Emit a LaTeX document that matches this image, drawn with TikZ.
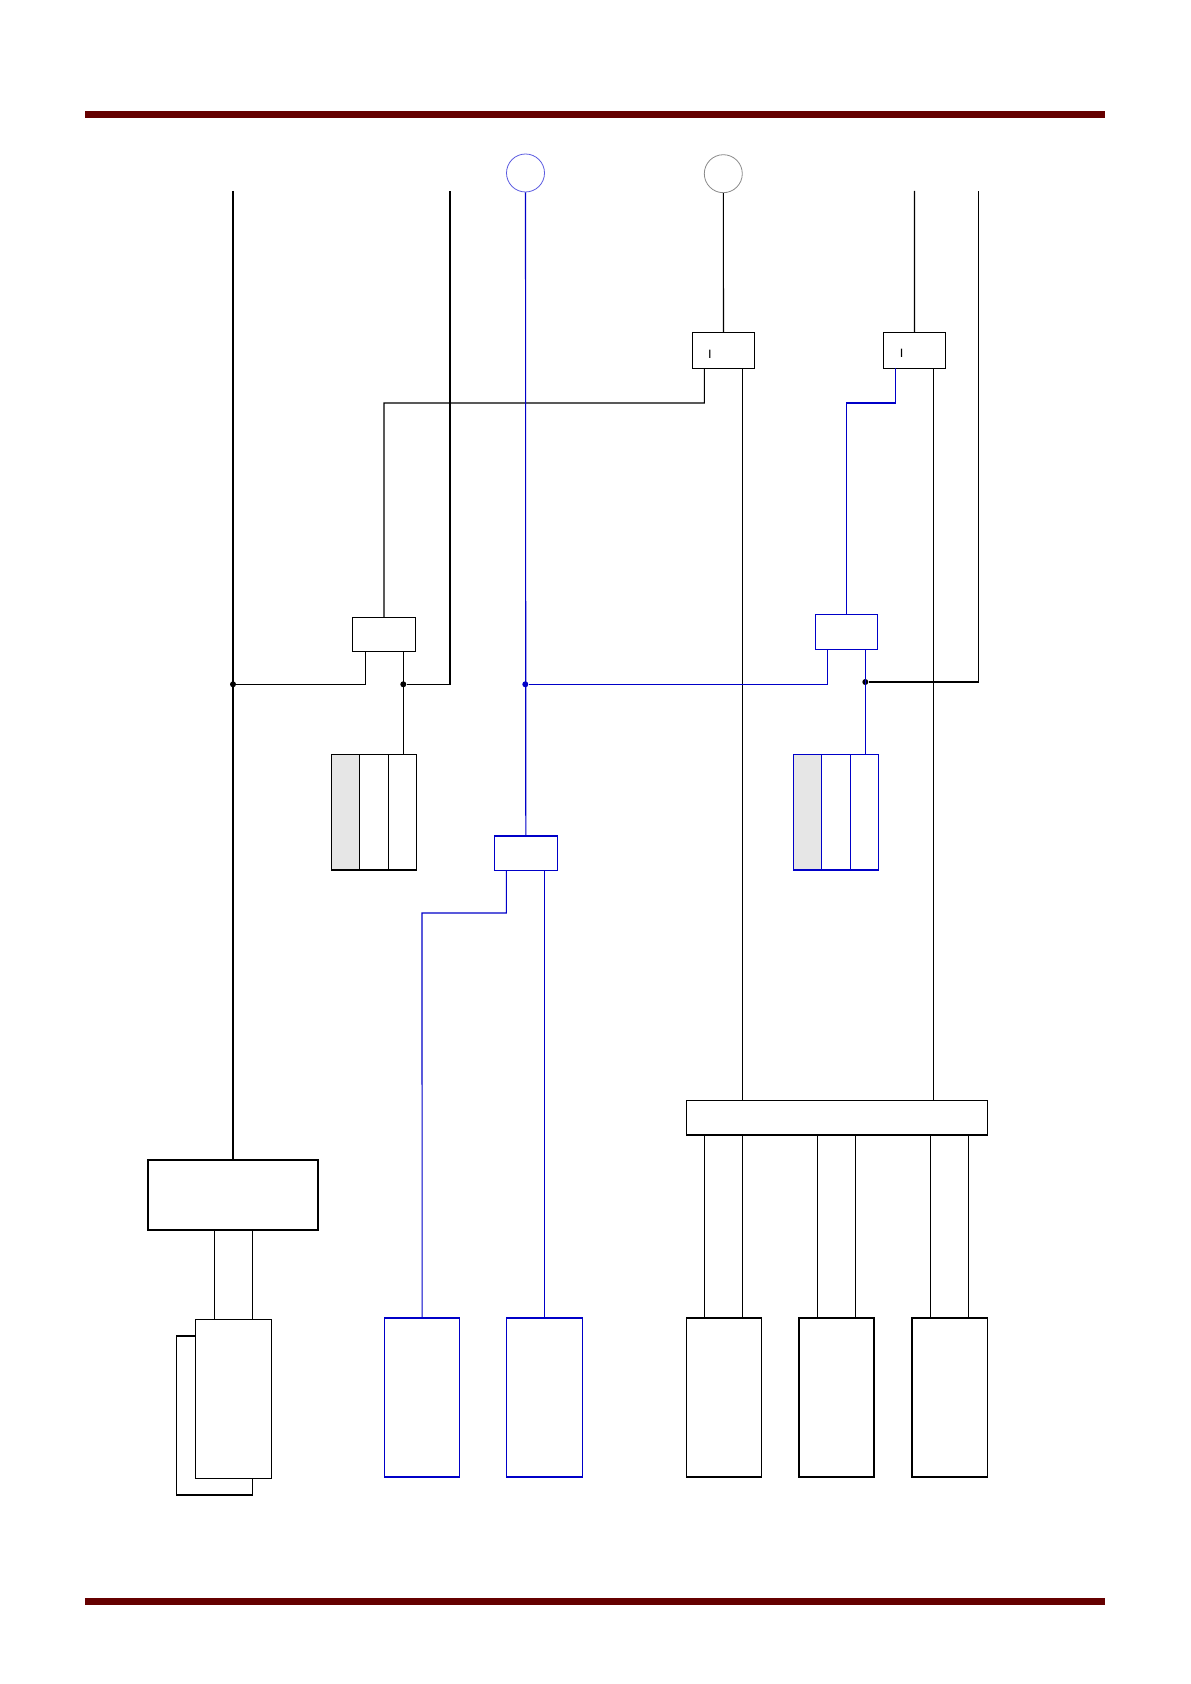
\documentclass[tikz,border=0pt]{standalone}
\usetikzlibrary{calc}
\definecolor{barred}{HTML}{650000}
\definecolor{wblue}{HTML}{0000C8}
\definecolor{cblue}{HTML}{5A5AE0}
\definecolor{cgray}{HTML}{8A8A8A}
\definecolor{cellgray}{HTML}{E6E6E6}
\begin{document}
\begin{tikzpicture}[x=0.5pt,y=-0.5pt,
  wire/.style={line width=0.55pt,black},
  bwire/.style={line width=0.55pt,wblue},
  box/.style={draw=black,line width=0.55pt,fill=white,rectangle,inner sep=0pt,outer sep=0pt,anchor=north west},
  bbox/.style={box,draw=wblue},
  dot/.style={circle,fill=black,inner sep=0pt,minimum size=3pt},
  bdot/.style={dot,fill=wblue},
  lbl/.style={font=\sffamily\fontsize{6}{7}\selectfont,inner sep=0pt},
  bar/.style={fill=barred,draw=none}]
\useasboundingbox (0,0) rectangle (1190,1684);
% header / footer bars
\fill[bar] (85,111) rectangle (1105,118);
\fill[bar] (85,1598) rectangle (1105,1605);

% circles
\node[circle,draw=cblue,line width=0.4pt,minimum size=19pt,inner sep=0pt] (cB) at (525.5,173) {};
\node[circle,draw=cgray,line width=0.4pt,minimum size=19pt,inner sep=0pt] (cK) at (723.3,173.7) {};

% top line starts
\coordinate (tA) at (233,191);
\coordinate (tB) at (450,191);
\coordinate (tC) at (914.5,191);
\coordinate (tD) at (978.5,191);

% boxes
\node[box,minimum width=31.2pt,minimum height=18pt] (I1) at (692.3,332.3) {};
\node[box,minimum width=31.2pt,minimum height=18pt] (I2) at (883.3,332.3) {};
\node[lbl] at (710,354) {I};
\node[lbl] at (901.7,353.5) {I};
\node[box,minimum width=31.7pt,minimum height=17pt] (bL) at (352.3,617.3) {};
\node[bbox,minimum width=31pt,minimum height=17.5pt] (bR) at (815.3,614.3) {};
\node[bbox,minimum width=31.5pt,minimum height=17.2pt] (bC) at (494.3,836) {};

% stacks
\node[box,fill=cellgray,minimum width=14pt,minimum height=57.85pt] (sL1) at (331.3,754.3) {};
\node[box,minimum width=14.5pt,minimum height=57.85pt] (sL2) at (359.3,754.3) {};
\node[box,minimum width=14.2pt,minimum height=57.85pt] (sL3) at (388.3,754.3) {};
\node[bbox,fill=cellgray,minimum width=14pt,minimum height=57.85pt] (sR1) at (793.3,754.3) {};
\node[bbox,minimum width=14.5pt,minimum height=57.85pt] (sR2) at (821.3,754.3) {};
\node[bbox,minimum width=14.2pt,minimum height=57.85pt] (sR3) at (850.3,754.3) {};

% big boxes
\node[box,minimum width=150.5pt,minimum height=17.35pt] (big) at (686.3,1100.3) {};
\node[box,minimum width=85pt,minimum height=35pt] (lbig) at (148,1160) {};

% bottom boxes
\node[box,minimum width=38pt,minimum height=79.5pt] (back) at (176.3,1336) {};
\node[box,minimum width=38pt,minimum height=79.5pt] (front) at (195.3,1319.3) {};
\node[bbox,minimum width=37.6pt,minimum height=79.5pt] (bb1) at (384.5,1318) {};
\node[bbox,minimum width=38pt,minimum height=79.5pt] (bb2) at (506.3,1318) {};
\node[box,minimum width=37.6pt,minimum height=79.5pt] (kb1) at (686.3,1318) {};
\node[box,minimum width=37.5pt,minimum height=79.5pt] (kb2) at (799,1318) {};
\node[box,minimum width=37.65pt,minimum height=79.5pt] (kb3) at (912,1318) {};

% leg coordinates
\coordinate (I1l) at ([xshift=6pt]I1.south west);
\coordinate (I1r) at ([xshift=25pt]I1.south west);
\coordinate (I2l) at ([xshift=6pt]I2.south west);
\coordinate (I2r) at ([xshift=25pt]I2.south west);
\coordinate (bLl) at ([xshift=6.5pt]bL.south west);
\coordinate (bLr) at ([xshift=25.5pt]bL.south west);
\coordinate (bRl) at ([xshift=6pt]bR.south west);
\coordinate (bRr) at ([xshift=25pt]bR.south west);
\coordinate (bCl) at ([xshift=6pt]bC.south west);
\coordinate (bCr) at ([xshift=25pt]bC.south west);
\coordinate (lbl1) at ([xshift=33.15pt]lbig.south west);
\coordinate (lbl2) at ([xshift=52.15pt]lbig.south west);

% junctions
\coordinate (j1) at (384,403);
\coordinate (j2) at (846.3,403);
\coordinate (j3) at (422,913);
\node[dot] (dA) at (233,684.3) {};
\node[dot] (dL) at (403.3,684.3) {};
\node[bdot] (dB) at (525.3,684.3) {};
\node[dot] (dR) at (865.3,682) {};

% black wires
\draw[wire] (tA) -- (lbig.north);
\draw[wire] (cK.south) -- (I1.north);
\draw[wire] (tC) -- (I2.north);
\draw[wire] (I1l) |- (j1) -- (bL.north);
\draw[wire] (I1r) -- (I1r |- big.north);
\draw[wire] (I2r) -- (I2r |- big.north);
\draw[wire] (bLl) |- (dA);
\draw[wire] (bLr) -- (bLr |- sL3.north);
\draw[wire] (dL) -| (tB);
\draw[wire] (dR) -| (tD);
\draw[wire] (lbl1) -- (lbl1 |- front.north);
\draw[wire] (lbl2) -- (lbl2 |- front.north);
\foreach \n in {kb1, kb2, kb3}{
  \draw[wire] ([xshift=-9.5pt]\n.north) -- ([xshift=-9.5pt]\n.north |- big.south);
  \draw[wire] ([xshift=9.5pt]\n.north) -- ([xshift=9.5pt]\n.north |- big.south);
}

% blue wires
\draw[bwire] (cB.south) -- (bC.north);
\draw[bwire] (I2l) |- (j2) -- (bR.north);
\draw[bwire] (bRl) |- (dB);
\draw[bwire] (bRr) -- (bRr |- sR3.north);
\draw[bwire] (bCl) |- (j3) -- (bb1.north);
\draw[bwire] (bCr) -- (bCr |- bb2.north);
\end{tikzpicture}
\end{document}
